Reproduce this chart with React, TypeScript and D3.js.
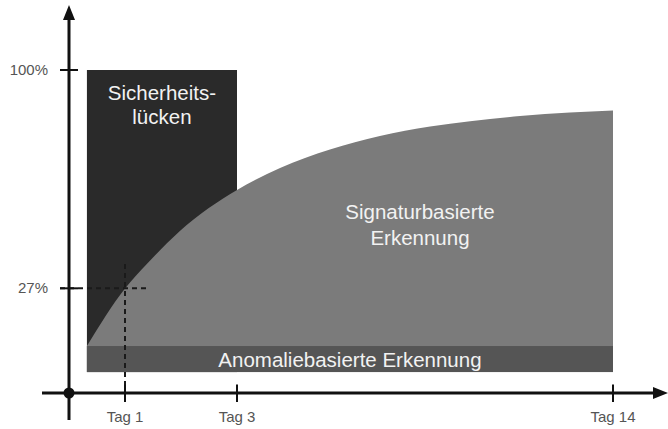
import * as d3 from 'd3'

const W = 668
const H = 429

// x in days (piecewise: the diagram compresses the long tail), y in percent
const X_DOMAIN = [0, 3, 14]
const X_RANGE = [69, 237, 613]
const Y_DOMAIN = [-8, 100]
const Y_RANGE = [393, 70]

const xTicks = [1, 3, 14]
const xTickLabels = ['Tag 1', 'Tag 3', 'Tag 14']
const yTicks = [27, 100]
const yTickLabels = ['27%', '100%']

// signature-based detection coverage over time
const curveDays = [0.32, 1, 1.39, 1.98, 3, 4.26, 5.72, 7.18, 8.65, 9.82, 11.28, 12.74, 14]
const curvePct = [7.7, 26.9, 35.1, 46.2, 59.9, 67.2, 73.4, 77.9, 81.1, 82.9, 84.6, 85.8, 86.5]

// blocks: [startDay, endDay, lowPct, highPct]
const gapBlock = [0.32, 3, -1, 100]
const anomalyBand = [0.32, 14, -1, 7.7]

const FONT = '"Liberation Sans", Arial, sans-serif'

export default function App() {
  const x = d3.scaleLinear().domain(X_DOMAIN).range(X_RANGE)
  const y = d3.scaleLinear().domain(Y_DOMAIN).range(Y_RANGE)

  const pts = curveDays.map((d, i) => [d, curvePct[i]] as [number, number])
  const area = d3.area<[number, number]>()
    .x(d => x(d[0]))
    .y0(y(anomalyBand[2]))
    .y1(d => y(d[1]))
    .curve(d3.curveMonotoneX)

  const x0 = x(0)
  const y0 = y(-8)
  const tick27 = { x: x(1), y: y(27) }

  return (
    <div style={{ position: 'absolute', left: 0, top: 0 }}>
      <svg width={W} height={H} style={{ display: 'block', fontFamily: FONT }}>
        <rect width={W} height={H} fill="#fff" />

        {/* Sicherheitslücken block */}
        <rect
          x={x(gapBlock[0])}
          y={y(gapBlock[3])}
          width={x(gapBlock[1]) - x(gapBlock[0])}
          height={y(gapBlock[2]) - y(gapBlock[3])}
          fill="#2a2a2a"
        />

        {/* signature-based area */}
        <path d={area(pts) ?? ''} fill="#7b7b7b" />

        {/* anomaly band */}
        <rect
          x={x(anomalyBand[0])}
          y={y(anomalyBand[3])}
          width={x(anomalyBand[1]) - x(anomalyBand[0])}
          height={y(anomalyBand[2]) - y(anomalyBand[3])}
          fill="#555555"
        />

        {/* labels */}
        <text x={(x(gapBlock[0]) + x(gapBlock[1])) / 2} y={100} fill="#f2f2f2" fontSize={20.5} textAnchor="middle">
          Sicherheits-
        </text>
        <text x={(x(gapBlock[0]) + x(gapBlock[1])) / 2} y={124} fill="#f2f2f2" fontSize={20.5} textAnchor="middle">
          lücken
        </text>
        <text x={420} y={219} fill="#f2f2f2" fontSize={20.5} textAnchor="middle">
          Signaturbasierte
        </text>
        <text x={420} y={245} fill="#f2f2f2" fontSize={20.5} textAnchor="middle">
          Erkennung
        </text>
        <text x={(x(anomalyBand[0]) + x(anomalyBand[1])) / 2} y={367} fill="#f2f2f2" fontSize={20.5} textAnchor="middle">
          Anomaliebasierte Erkennung
        </text>

        {/* dashed guides for 27% at Tag 1 */}
        <line x1={x0 - 9} x2={150} y1={tick27.y} y2={tick27.y} stroke="#1a1a1a" strokeWidth={2} strokeDasharray="5,4" />
        <line x1={tick27.x} x2={tick27.x} y1={264} y2={y0 + 9} stroke="#1a1a1a" strokeWidth={2} strokeDasharray="5,4" />

        {/* axes */}
        <line x1={x0} x2={x0} y1={y0 + 27} y2={16} stroke="#111" strokeWidth={3} />
        <path d={`M${x0},5 L${x0 + 6},20 L${x0 - 6},20 Z`} fill="#111" />
        <line x1={x0 - 27} x2={657} y1={y0} y2={y0} stroke="#111" strokeWidth={3} />
        <path d={`M668,${y0} L653,${y0 - 6} L653,${y0 + 6} Z`} fill="#111" />
        <circle cx={x0} cy={y0} r={5.5} fill="#111" />

        {yTicks.map((t, i) => (
          <g key={`y-${t}`}>
            <line x1={x0 - 9} x2={x0 + 9} y1={y(t)} y2={y(t)} stroke="#111" strokeWidth={2} />
            <text x={48} y={y(t) + 5} fill="#555" fontSize={15} textAnchor="end">
              {yTickLabels[i]}
            </text>
          </g>
        ))}

        {xTicks.map((t, i) => (
          <g key={`x-${t}`}>
            <line x1={x(t)} x2={x(t)} y1={y0 - 8.5} y2={y0 + 9} stroke="#111" strokeWidth={2} />
            <text x={x(t)} y={422} fill="#555" fontSize={15} textAnchor="middle">
              {xTickLabels[i]}
            </text>
          </g>
        ))}
      </svg>
    </div>
  )
}
